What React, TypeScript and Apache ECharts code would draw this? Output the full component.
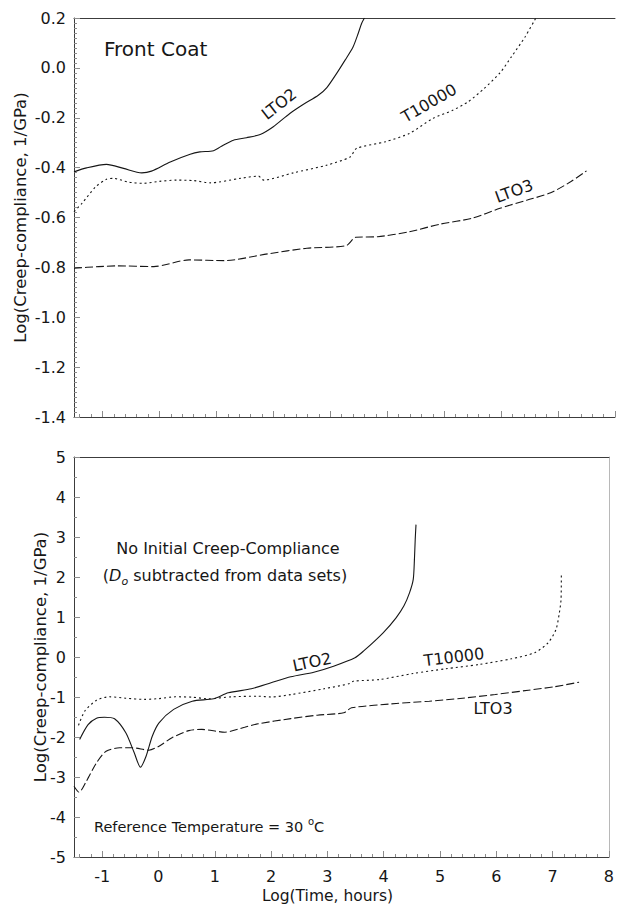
import { useEffect, useRef } from 'react';
import * as echarts from 'echarts';

const FONT = '"DejaVu Sans", "Liberation Sans", Arial, sans-serif';
const INK = '#161616';
const AXIS = '#3c3c3c';
const TICK = '#8c8c8c';

// Shared Log(Time, hours) axis
const xMin = -1.5;
const xMax = 8;
const xTickValues = [-1, 0, 1, 2, 3, 4, 5, 6, 7, 8];
const xMinorStep = 0.2;

// Front Coat panel, Log(Creep-compliance) range
const frontYMin = -1.4;
const frontYMax = 0.2;
const frontYStep = 0.2;

// No-initial-compliance panel range
const noD0YMin = -5;
const noD0YMax = 5;
const noD0YStep = 1;

// Front Coat curves: [log time, log compliance]
const lto2Front: [number, number][] = [
  [-1.5, -0.417], [-1.28, -0.401], [-0.93, -0.387], [-0.63, -0.403], [-0.31, -0.421],
  [-0.14, -0.414], [0.19, -0.377], [0.54, -0.346], [0.71, -0.337], [0.95, -0.332],
  [1.12, -0.31], [1.3, -0.29], [1.53, -0.28], [1.77, -0.267], [2.0, -0.236],
  [2.29, -0.183], [2.53, -0.146], [2.79, -0.11], [2.94, -0.079], [3.11, -0.023],
  [3.26, 0.031], [3.4, 0.084], [3.49, 0.138], [3.55, 0.178], [3.6, 0.2],
];
const t10000Front: [number, number][] = [
  [-1.5, -0.577], [-1.36, -0.543], [-1.12, -0.477], [-0.93, -0.447], [-0.8, -0.443],
  [-0.55, -0.458], [-0.28, -0.463], [0.0, -0.455], [0.3, -0.45], [0.6, -0.452],
  [0.89, -0.461], [1.42, -0.443], [1.74, -0.434], [1.83, -0.45], [2.35, -0.421],
  [2.94, -0.39], [3.35, -0.357], [3.46, -0.323], [3.97, -0.296], [4.39, -0.263],
  [4.8, -0.203], [5.15, -0.17], [5.42, -0.136], [5.7, -0.083], [5.98, -0.02],
  [6.18, 0.044], [6.42, 0.124], [6.61, 0.2],
];
const lto3Front: [number, number][] = [
  [-1.5, -0.803], [-1.07, -0.797], [-0.73, -0.794], [-0.1, -0.797], [0.52, -0.77],
  [1.14, -0.773], [1.9, -0.746], [2.59, -0.723], [3.28, -0.713], [3.45, -0.679],
  [3.83, -0.677], [4.39, -0.657], [4.94, -0.626], [5.49, -0.603], [5.98, -0.563],
  [6.46, -0.53], [6.87, -0.501], [7.22, -0.457], [7.5, -0.413],
];

// Curves with D0 subtracted: [log time, log compliance]
const lto2NoD0: [number, number][] = [
  [-1.4, -2.06], [-1.25, -1.69], [-1.1, -1.53], [-0.96, -1.505], [-0.78, -1.545],
  [-0.58, -1.895], [-0.43, -2.395], [-0.32, -2.755], [-0.22, -2.48], [-0.11, -1.98],
  [0.01, -1.645], [0.27, -1.31], [0.6, -1.105], [0.98, -1.045], [1.24, -0.895],
  [1.65, -0.795], [2.0, -0.645], [2.35, -0.495], [2.76, -0.38], [3.11, -0.23],
  [3.49, -0.02], [3.64, 0.145], [3.99, 0.605], [4.22, 0.98], [4.36, 1.28],
  [4.46, 1.61], [4.525, 1.94], [4.546, 2.44], [4.56, 2.94], [4.574, 3.31],
];
const t10000NoD0: [number, number][] = [
  [-1.42, -1.71], [-1.31, -1.355], [-1.1, -1.08], [-0.87, -0.995], [-0.58, -1.03],
  [-0.25, -1.06], [0.01, -1.04], [0.3, -0.995], [0.6, -1.005], [0.89, -1.045],
  [1.3, -0.995], [1.77, -0.98], [2.0, -1.0], [2.35, -0.94], [2.94, -0.795],
  [3.4, -0.663], [3.46, -0.605], [3.93, -0.563], [4.52, -0.413], [5.1, -0.295],
  [5.69, -0.188], [6.27, -0.045], [6.68, 0.105], [6.92, 0.355], [7.06, 0.688],
  [7.12, 1.105], [7.15, 1.44], [7.155, 2.06],
];
const lto3NoD0: [number, number][] = [
  [-1.5, -3.23], [-1.41, -3.38], [-1.28, -3.105], [-1.1, -2.645], [-0.93, -2.355],
  [-0.69, -2.27], [-0.46, -2.27], [-0.17, -2.33], [0.01, -2.23], [0.24, -2.02],
  [0.54, -1.84], [0.77, -1.81], [1.18, -1.88], [1.53, -1.755], [1.77, -1.67],
  [2.35, -1.54], [2.82, -1.455], [3.29, -1.395], [3.43, -1.27], [4.22, -1.163],
  [4.81, -1.105], [5.4, -1.03], [5.98, -0.938], [6.57, -0.83], [7.03, -0.745],
  [7.47, -0.63],
];

const xMinorTickValues: number[] = [];
for (let i = Math.ceil(xMin / xMinorStep); i * xMinorStep <= xMax + 1e-9; i++) {
  if (i % 5 !== 0) xMinorTickValues.push(Math.round(i * xMinorStep * 10) / 10);
}

const tickLabelStyle = { fontSize: 16, fontFamily: FONT, color: INK };

function xAxesFor(gridIndex: number, withLabels: boolean) {
  const major: any = {
    type: 'value',
    gridIndex,
    min: xMin,
    max: xMax,
    position: 'bottom',
    axisLine: { show: true, onZero: false, lineStyle: { color: AXIS, width: 1 } },
    axisTick: { show: true, inside: true, length: 6, customValues: xTickValues, lineStyle: { color: TICK } },
    axisLabel: { show: withLabels, customValues: xTickValues, margin: 11, ...tickLabelStyle },
    splitLine: { show: false },
  };
  if (withLabels) {
    major.name = 'Log(Time, hours)';
    major.nameLocation = 'middle';
    major.nameGap = 31;
    major.nameMoveOverlap = false;
    major.nameTextStyle = { fontSize: 15.5, fontFamily: FONT, color: INK, padding: [0, 28, 0, 0] };
  }
  const minor = {
    type: 'value',
    gridIndex,
    min: xMin,
    max: xMax,
    position: 'bottom',
    axisLine: { show: false, onZero: false },
    axisTick: { show: true, inside: true, length: 3, customValues: xMinorTickValues, lineStyle: { color: TICK } },
    axisLabel: { show: false },
    splitLine: { show: false },
  };
  const topEdge = {
    type: 'value',
    gridIndex,
    min: xMin,
    max: xMax,
    position: 'top',
    axisLine: { show: true, onZero: false, lineStyle: { color: AXIS, width: 1 } },
    axisTick: { show: false },
    axisLabel: { show: false },
    splitLine: { show: false },
  };
  return [major, minor, topEdge];
}

const yTitle = 'Log(Creep-compliance, 1/GPa)';

function curve(name: string, data: [number, number][], xi: number, yi: number, dash: any) {
  return {
    type: 'line',
    name,
    xAxisIndex: xi,
    yAxisIndex: yi,
    data,
    smooth: 0.25,
    symbol: 'none',
    lineStyle: { color: INK, width: 1.1, type: dash },
  };
}

const DOTTED = [2, 3];
const DASHED = [8, 3];

function curveLabel(text: string, x: number, y: number, deg: number) {
  return {
    type: 'text',
    x,
    y,
    rotation: (deg * Math.PI) / 180,
    style: { text, fontSize: 16, fontFamily: FONT, fill: INK, align: 'center', verticalAlign: 'middle' },
  };
}

const option: any = {
  animation: false,
  backgroundColor: '#ffffff',
  textStyle: { fontFamily: FONT },
  grid: [
    { left: 74, top: 18, width: 541, height: 399 },
    { left: 74, top: 457, width: 541, height: 400 },
  ],
  xAxis: [...xAxesFor(0, false), ...xAxesFor(1, true)],
  yAxis: [
    {
      type: 'value',
      gridIndex: 0,
      min: frontYMin,
      max: frontYMax,
      interval: frontYStep,
      position: 'left',
      axisLine: { show: true, onZero: false, lineStyle: { color: AXIS, width: 1 } },
      axisTick: { show: true, inside: true, length: 6, lineStyle: { color: TICK } },
      minorTick: { show: true, splitNumber: 10, length: 3, lineStyle: { color: TICK } },
      axisLabel: {
        margin: 8,
        padding: [7, 0, 0, 0],
        formatter: (v: number) => (Math.abs(v) < 1e-9 ? '0.0' : v.toFixed(1)),
        ...tickLabelStyle,
      },
      splitLine: { show: false },
      name: yTitle,
      nameLocation: 'middle',
      nameGap: 45,
      nameMoveOverlap: false,
      nameTextStyle: { fontSize: 16.5, fontFamily: FONT, color: INK },
    },
    {
      type: 'value',
      gridIndex: 1,
      min: noD0YMin,
      max: noD0YMax,
      interval: noD0YStep,
      position: 'left',
      axisLine: { show: true, onZero: false, lineStyle: { color: AXIS, width: 1 } },
      axisTick: { show: true, inside: true, length: 6, lineStyle: { color: TICK } },
      minorTick: { show: true, splitNumber: 2, length: 3, lineStyle: { color: TICK } },
      axisLabel: { margin: 8, padding: [7, 0, 0, 0], ...tickLabelStyle },
      splitLine: { show: false },
      name: yTitle,
      nameLocation: 'middle',
      nameGap: 25,
      nameMoveOverlap: false,
      nameTextStyle: { fontSize: 16.5, fontFamily: FONT, color: INK },
    },
    {
      type: 'value',
      gridIndex: 1,
      min: noD0YMin,
      max: noD0YMax,
      position: 'right',
      axisLine: { show: true, onZero: false, lineStyle: { color: '#b8b8b8', width: 1 } },
      axisTick: { show: false },
      axisLabel: { show: false },
      splitLine: { show: false },
    },
  ],
  series: [
    curve('LTO2', lto2Front, 0, 0, 'solid'),
    curve('T10000', t10000Front, 0, 0, DOTTED),
    curve('LTO3', lto3Front, 0, 0, DASHED),
    curve('LTO2', lto2NoD0, 3, 1, 'solid'),
    curve('T10000', t10000NoD0, 3, 1, DOTTED),
    curve('LTO3', lto3NoD0, 3, 1, DASHED),
  ],
  graphic: [
    {
      type: 'text', x: 104, y: 49,
      style: { text: 'Front Coat', fontSize: 20, fontFamily: FONT, fill: INK, align: 'left', verticalAlign: 'middle' },
    },
    curveLabel('LTO2', 279, 104, 38),
    curveLabel('T10000', 429, 103, 30),
    curveLabel('LTO3', 514, 191, 20),
    {
      type: 'text', x: 228, y: 548,
      style: { text: 'No Initial Creep-Compliance', fontSize: 16, fontFamily: FONT, fill: INK, align: 'center', verticalAlign: 'middle' },
    },
    {
      type: 'text', x: 225, y: 575,
      style: {
        text: '({it|D}{sub|o} subtracted from data sets)',
        fontSize: 16,
        lineHeight: 24,
        fontFamily: FONT,
        fill: INK,
        align: 'center',
        verticalAlign: 'middle',
        rich: {
          it: { fontSize: 16, fontStyle: 'italic', fontFamily: FONT, fill: INK, lineHeight: 24 },
          sub: { fontSize: 11, fontStyle: 'italic', fontFamily: FONT, fill: INK, lineHeight: 12, verticalAlign: 'bottom' },
        },
      },
    },
    curveLabel('LTO2', 312, 662, 12),
    curveLabel('T10000', 454, 657, 7),
    curveLabel('LTO3', 493, 708, 0),
    {
      type: 'text', x: 94, y: 827,
      style: {
        text: 'Reference Temperature = 30 {sup|o}C',
        fontSize: 14.5,
        lineHeight: 22,
        fontFamily: FONT,
        fill: INK,
        align: 'left',
        verticalAlign: 'middle',
        rich: {
          sup: { fontSize: 10, fontFamily: FONT, fill: INK, lineHeight: 10, verticalAlign: 'top' },
        },
      },
    },
  ],
};

export default function App() {
  const ref = useRef<HTMLDivElement>(null);
  useEffect(() => {
    document.body.style.margin = '0';
    const chart = echarts.init(ref.current!, null, { renderer: 'svg' });
    chart.setOption(option);
    return () => chart.dispose();
  }, []);
  return <div ref={ref} style={{ width: 617, height: 907, background: '#fff' }} />;
}
